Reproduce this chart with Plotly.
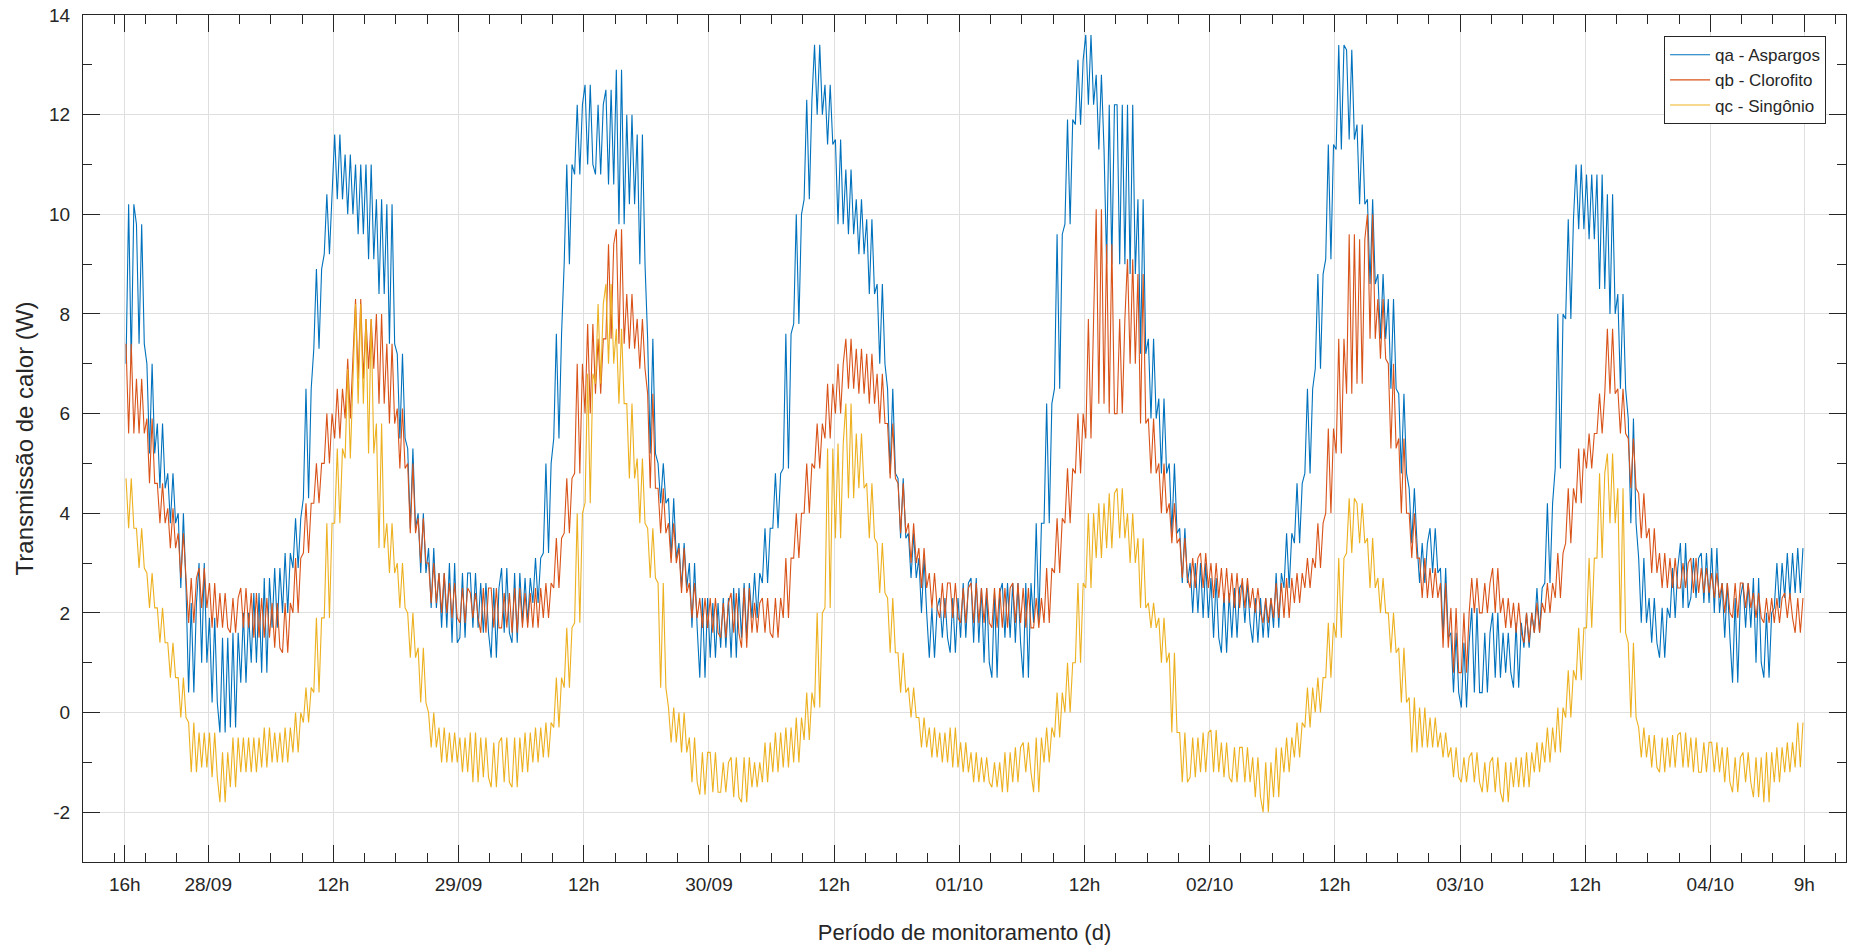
import plotly.graph_objects as go

# ---------------- data (hourly low / high readings, from 27/09 16h to 04/10 9h) ----------------
FIRST_HOUR = 16  # hours after 27/09 00:00 of the first hourly block

QA_LOW = [7.0, 7.4, 5.2, 4.5, 3.8, 2.5, 0.4, 1.0, 0.2, -0.4, -0.3, 0.6, 1.0, 0.8, 1.7, 2.0, 2.9, 4.3, 7.3, 9.2,
          10.3, 10.0, 9.6, 9.1, 8.4, 7.4, 5.5, 3.7, 2.8, 2.1, 1.7, 1.4, 1.5, 1.7, 1.6, 1.1, 1.6, 1.4, 1.8, 2.2,
          3.2, 5.5, 9.0, 10.8, 11.0, 10.8, 10.6, 9.8, 10.2, 9.0, 5.2, 4.2, 3.1, 2.5, 1.7, 0.7, 1.1, 1.3, 1.1, 1.5,
          1.9, 2.6, 3.7, 4.9, 7.8, 10.3, 12.0, 11.4, 9.8, 9.6, 9.2, 8.4, 7.0, 4.8, 3.5, 2.7, 2.0, 1.1, 1.5, 1.2,
          1.5, 1.4, 1.0, 0.7, 1.5, 1.4, 0.7, 1.8, 3.8, 6.5, 9.8, 11.8, 12.2, 11.3, 9.0, 9.0, 8.8, 7.2, 5.9, 4.8,
          3.6, 2.6, 2.0, 1.9, 1.5, 1.2, 1.5, 1.8, 1.4, 1.5, 1.7, 2.5, 3.4, 4.8, 6.9, 9.1, 11.3, 11.5, 10.2, 8.6,
          7.5, 6.5, 4.8, 3.4, 2.6, 2.8, 1.5, 0.4, 0.1, 0.4, 0.4, 0.7, 0.8, 0.5, 1.3, 1.6, 2.6, 4.9, 7.9, 9.7,
          9.5, 8.5, 8.0, 6.5, 3.8, 1.8, 1.4, 1.1, 1.9, 2.1, 2.3, 2.2, 2.0, 1.5, 0.6, 1.7, 1.0, 0.7, 2.1, 2.3,
          2.4]
QA_HIGH = [10.2, 9.8, 7.0, 5.8, 4.8, 4.0, 2.2, 3.0, 1.9, 1.5, 1.6, 2.0, 2.4, 2.7, 2.9, 3.2, 3.9, 6.5, 8.9, 10.4,
           11.6, 11.2, 11.0, 11.0, 10.3, 10.2, 7.2, 5.3, 4.0, 3.3, 2.8, 3.0, 2.8, 2.8, 2.6, 2.5, 2.9, 2.8, 2.7, 3.1,
           5.0, 7.6, 11.0, 12.2, 12.6, 12.2, 12.5, 12.9, 12.0, 11.6, 7.5, 5.0, 4.3, 3.4, 3.0, 2.3, 2.2, 2.3, 2.5, 2.6,
           2.8, 3.7, 4.8, 7.6, 10.0, 12.3, 13.4, 12.6, 11.5, 10.9, 10.3, 9.9, 8.6, 6.5, 4.7, 3.6, 3.1, 2.1, 2.3, 2.3,
           2.6, 2.7, 2.5, 2.4, 2.6, 2.6, 2.6, 3.8, 6.2, 9.6, 11.9, 13.1, 13.6, 12.8, 12.2, 12.2, 12.2, 10.3, 7.5, 6.3,
           5.0, 3.7, 3.0, 3.0, 2.7, 2.4, 2.5, 2.6, 2.3, 2.3, 2.8, 3.6, 4.6, 6.5, 8.8, 11.4, 13.4, 13.3, 11.8, 10.3,
           8.8, 8.3, 6.4, 4.5, 3.4, 3.7, 2.9, 1.6, 1.4, 2.1, 1.6, 2.0, 1.6, 1.8, 2.0, 2.5, 4.2, 8.0, 9.9, 11.0,
           10.8, 10.8, 10.4, 8.4, 5.9, 3.1, 2.3, 2.1, 2.9, 3.4, 3.1, 3.2, 3.3, 2.6, 2.3, 2.6, 2.7, 2.0, 3.0, 3.2,
           3.3]

QB_LOW = [5.6, 5.6, 4.6, 3.8, 3.3, 2.7, 1.8, 2.1, 1.7, 1.7, 1.6, 1.7, 1.5, 1.5, 1.3, 1.2, 2.0, 3.2, 4.2, 5.0,
          5.5, 5.9, 6.7, 6.9, 6.2, 5.8, 4.9, 3.6, 3.0, 2.2, 2.0, 1.9, 1.8, 1.9, 1.6, 1.7, 1.7, 1.6, 1.7, 1.7,
          1.9, 2.5, 3.6, 4.8, 6.0, 6.4, 7.5, 7.4, 7.3, 6.9, 4.5, 3.6, 3.0, 2.4, 1.9, 1.7, 1.6, 1.5, 1.6, 1.3,
          1.6, 1.6, 1.5, 1.9, 3.1, 4.0, 4.9, 5.5, 6.0, 6.5, 6.4, 6.2, 5.8, 4.7, 3.6, 3.0, 2.5, 2.1, 1.9, 1.9,
          1.8, 1.8, 1.8, 1.7, 1.7, 1.8, 1.7, 1.7, 1.8, 2.8, 3.8, 4.8, 5.5, 6.2, 6.0, 6.0, 7.0, 5.8, 4.8, 4.0,
          3.4, 2.7, 2.5, 2.5, 2.3, 2.2, 2.1, 2.1, 2.0, 1.8, 1.9, 1.9, 2.2, 2.5, 2.9, 4.0, 5.2, 6.4, 6.6, 7.5,
          7.1, 5.3, 4.0, 3.1, 2.3, 2.3, 1.3, 0.8, 0.8, 2.0, 2.0, 2.0, 1.7, 1.6, 1.4, 1.6, 2.0, 2.3, 3.4, 4.2,
          4.9, 5.6, 6.4, 5.6, 4.5, 3.5, 2.8, 2.5, 2.5, 2.5, 2.4, 2.4, 2.3, 2.0, 1.9, 2.1, 1.9, 1.8, 1.8, 1.9,
          1.6]
QB_HIGH = [7.4, 6.7, 5.9, 4.6, 4.1, 3.6, 2.7, 2.9, 2.6, 2.4, 2.3, 2.5, 2.4, 2.3, 2.2, 2.2, 3.1, 4.2, 5.0, 6.0,
           6.5, 7.1, 8.3, 7.9, 8.0, 7.4, 6.1, 5.0, 3.9, 3.0, 2.8, 2.6, 2.5, 2.4, 2.5, 2.5, 2.4, 2.5, 2.4, 2.5,
           2.6, 3.5, 4.7, 7.0, 7.8, 7.5, 9.4, 9.7, 8.4, 7.9, 6.4, 4.5, 3.8, 3.3, 2.6, 2.3, 2.3, 2.2, 2.4, 2.5,
           2.2, 2.3, 2.3, 3.1, 4.0, 5.0, 5.8, 6.6, 7.0, 7.5, 7.3, 7.2, 6.8, 5.8, 4.6, 3.8, 3.3, 2.8, 2.6, 2.6,
           2.5, 2.6, 2.5, 2.5, 2.5, 2.6, 2.5, 2.3, 2.9, 3.9, 4.9, 6.0, 7.9, 10.1, 9.4, 7.9, 9.1, 8.8, 5.9, 5.0,
           4.2, 3.5, 3.1, 3.2, 3.0, 2.9, 2.8, 2.7, 2.5, 2.3, 2.6, 2.7, 2.8, 3.1, 3.8, 5.7, 7.5, 9.6, 9.5, 10.0,
           8.3, 7.0, 5.5, 4.0, 3.1, 2.9, 2.6, 2.1, 2.0, 2.7, 2.6, 2.9, 2.3, 2.2, 2.0, 2.2, 2.6, 3.2, 4.5, 5.3,
           5.6, 6.4, 7.7, 6.5, 5.5, 4.4, 3.7, 3.2, 3.1, 3.0, 3.1, 2.9, 2.8, 2.6, 2.6, 2.6, 2.4, 2.3, 2.3, 2.4,
           2.3]

QC_LOW = [3.7, 2.9, 2.1, 1.4, 0.7, -0.1, -1.2, -1.1, -1.3, -1.8, -1.5, -1.2, -1.2, -1.1, -1.0, -1.0, -0.8, -0.2, 0.4, 1.9,
          3.8, 5.1, 6.2, 5.2, 3.3, 2.8, 2.1, 1.1, 0.2, -0.7, -1.0, -1.0, -1.2, -1.4, -1.3, -1.5, -1.4, -1.5, -1.2, -1.0,
          -0.9, -0.3, 0.5, 1.8, 4.2, 6.6, 7.0, 6.2, 4.7, 3.8, 2.7, 0.5, -0.6, -0.8, -1.4, -1.65, -1.6, -1.6, -1.7, -1.8,
          -1.5, -1.4, -1.2, -1.1, -1.0, -0.55, 0.1, 2.1, 3.5, 4.3, 4.5, 3.5, 2.4, 1.2, 0.4, -0.1, -0.7, -0.9, -1.0, -1.1,
          -1.2, -1.4, -1.4, -1.5, -1.6, -1.4, -1.2, -1.6, -1.0, -0.5, 0.0, 1.0, 2.5, 3.1, 3.3, 3.5, 3.0, 2.1, 1.7, 1.0,
          -0.4, -1.4, -1.3, -1.2, -1.2, -1.3, -1.4, -1.4, -1.7, -2.0, -1.7, -1.2, -0.9, -0.3, 0.0, 0.7, 1.5, 3.2, 3.4, 2.5,
          2.0, 1.2, 0.2, -0.8, -0.7, -0.7, -0.9, -1.3, -1.4, -1.4, -1.6, -1.6, -1.8, -1.5, -1.5, -1.2, -1.0, -0.8, -0.1, 0.65,
          1.7, 3.1, 3.8, 1.6, -0.1, -0.9, -1.1, -1.2, -1.1, -1.1, -1.2, -1.2, -1.2, -1.4, -1.6, -1.4, -1.7, -1.8, -1.4, -1.2,
          -1.1]
QC_HIGH = [4.7, 3.7, 2.8, 2.1, 1.4, 0.7, -0.2, -0.4, -0.4, -0.8, -0.5, -0.5, -0.5, -0.3, -0.4, -0.3, 0.0, 0.5, 1.9, 3.8,
           5.3, 6.9, 8.2, 7.9, 5.8, 3.8, 3.0, 2.0, 1.3, 0.0, -0.3, -0.4, -0.5, -0.4, -0.5, -0.6, -0.5, -0.5, -0.4, -0.3,
           -0.2, 0.7, 1.7, 4.0, 6.8, 8.2, 8.6, 7.7, 6.2, 5.1, 3.7, 2.6, 0.1, 0.0, -0.5, -0.8, -0.8, -1.0, -0.9, -0.9,
           -1.0, -0.6, -0.4, -0.3, -0.1, 0.4, 2.0, 5.3, 5.4, 6.2, 5.6, 4.6, 3.4, 2.3, 1.2, 0.5, -0.1, -0.3, -0.4, -0.3,
           -0.6, -0.8, -0.9, -1.0, -0.8, -0.7, -0.6, -0.5, -0.3, 0.4, 1.0, 2.6, 4.0, 4.2, 4.4, 4.5, 4.0, 3.5, 2.2, 1.9,
           1.2, -0.4, -0.5, -0.4, -0.35, -0.6, -0.7, -0.7, -0.9, -1.0, -0.7, -0.5, -0.2, 0.5, 0.7, 1.8, 3.1, 4.3, 4.2, 3.5,
           2.7, 2.0, 1.3, 0.3, 0.1, -0.1, -0.4, -0.7, -0.9, -0.8, -1.0, -0.9, -1.0, -0.9, -0.8, -0.6, -0.3, 0.1, 0.85, 1.7,
           3.1, 4.8, 5.2, 4.5, 1.4, -0.3, -0.45, -0.5, -0.45, -0.4, -0.5, -0.6, -0.6, -0.7, -0.9, -0.8, -0.9, -0.8, -0.7, -0.6,
           -0.2]

SERIES_NAMES = ["qa - Aspargos", "qb - Clorofito", "qc - Singônio"]
SERIES_COLORS = ["#0072BD", "#D95319", "#EDB120"]

# x tick positions (hours after 27/09 00:00) and labels
TICK_HOURS = [16, 24, 36, 48, 60, 72, 84, 96, 108, 120, 132, 144, 156, 168, 177]
TICK_LABELS = ["16h", "28/09", "12h", "29/09", "12h", "30/09", "12h", "01/10", "12h",
               "02/10", "12h", "03/10", "12h", "04/10", "9h"]
Y_TICKS = [-2, 0, 2, 4, 6, 8, 10, 12, 14]
Y_TICK_LABELS = ["-2", "0", "2", "4", "6", "8", "10", "12", "14"]


def build_series(lows, highs):
    """Each hourly block is drawn as its read band: the low and high readings of that hour,
    visited twice and ordered along the trend of the series."""
    xs, ys = [], []
    n = len(lows)
    for i in range(n):
        t0 = FIRST_HOUR + i
        mid_now = (lows[i] + highs[i]) / 2
        mid_next = (lows[i + 1] + highs[i + 1]) / 2 if i + 1 < n else mid_now
        a, b = (lows[i], highs[i]) if mid_next >= mid_now else (highs[i], lows[i])
        xs += [t0 + 0.125, t0 + 0.375, t0 + 0.625, t0 + 0.875]
        ys += [a, b, a, b]
    return xs, ys


FONT = "Liberation Sans, Arial, sans-serif"
AX = "#262626"

fig = go.Figure()
for name, color, lo, hi in zip(SERIES_NAMES, SERIES_COLORS,
                               [QA_LOW, QB_LOW, QC_LOW], [QA_HIGH, QB_HIGH, QC_HIGH]):
    x, y = build_series(lo, hi)
    fig.add_trace(go.Scatter(x=x, y=y, mode="lines", name=name,
                             line=dict(color=color, width=1.1)))

fig.update_layout(
    width=1851, height=949,
    margin=dict(l=83, r=5, t=15, b=87),
    paper_bgcolor="white", plot_bgcolor="white",
    font=dict(family=FONT, color=AX),
    showlegend=True,
    legend=dict(x=0.9887, y=0.975, xanchor="right", yanchor="top",
                bgcolor="white", bordercolor=AX, borderwidth=1,
                font=dict(family=FONT, size=17, color=AX),
                tracegroupgap=0, itemwidth=40),
)

fig.update_xaxes(
    range=[12, 181], tickmode="array", tickvals=TICK_HOURS, ticktext=TICK_LABELS,
    ticks="inside", ticklen=17, tickwidth=1, tickcolor=AX,
    showline=True, linecolor=AX, linewidth=1, mirror="ticks",
    showgrid=True, gridcolor="#dfdfdf", gridwidth=1, zeroline=False,
    tickfont=dict(family=FONT, size=19, color=AX), ticklabelstandoff=5,
    minor=dict(tickmode="linear", tick0=0, dtick=3, ticks="inside", ticklen=9,
               tickcolor=AX, showgrid=False),
    title=dict(text="Período de monitoramento (d)", font=dict(family=FONT, size=22, color=AX),
               standoff=30),
)
fig.update_yaxes(
    range=[-3, 14], tickmode="array", tickvals=Y_TICKS, ticktext=Y_TICK_LABELS,
    ticks="inside", ticklen=17, tickwidth=1, tickcolor=AX,
    showline=True, linecolor=AX, linewidth=1, mirror="ticks",
    showgrid=True, gridcolor="#dfdfdf", gridwidth=1, zeroline=False,
    tickfont=dict(family=FONT, size=19, color=AX), ticklabelstandoff=8,
    minor=dict(tickmode="linear", tick0=0, dtick=1, ticks="inside", ticklen=9,
               tickcolor=AX, showgrid=False),
    title=dict(text="Transmissão de calor (W)", font=dict(family=FONT, size=24, color=AX),
               standoff=8),
)

fig.write_html("out.html")
